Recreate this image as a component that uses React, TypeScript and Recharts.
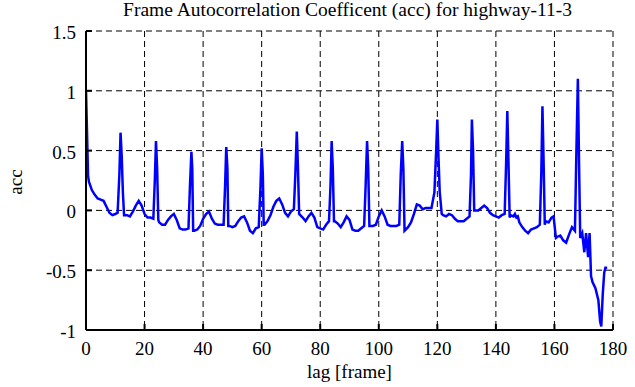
import { LineChart, Line, XAxis, YAxis, CartesianGrid, Label } from "recharts"

// lag [frame] and acc, one row per stretch between spikes
const lags = [
  0, 0.4, 0.7, 1, 2, 3, 4, 5, 6, 7, 8, 9, 10, 10.8, 11.4, 11.8, 12.2, 12.6, 13,
  14, 15, 16, 17, 18, 19, 20, 21, 22, 23, 23.5, 23.9, 24.3, 24.7,
  25, 26, 27, 28, 29, 30, 31, 32, 33, 34, 35, 35.5, 36, 36.3, 36.6,
  37, 38, 39, 40, 41, 42, 43, 44, 45, 46, 47, 47.5, 47.9, 48.3, 48.6,
  49, 50, 51, 52, 53, 54, 55, 56, 57, 58, 59, 59.6, 60, 60.4, 60.7,
  61, 62, 63, 64, 65, 66, 67, 68, 69, 70, 71, 71.5, 72, 72.4, 72.8,
  74, 75, 76, 77, 78, 79, 80, 81, 82, 83, 83.5, 83.9, 84.3, 84.7,
  85, 86, 87, 88, 89, 90, 91, 92, 93, 94, 95, 95.5, 96, 96.4, 96.8,
  98, 99, 100, 101, 102, 103, 104, 105, 106, 107, 107.5, 108, 108.4, 108.8,
  110, 111, 112, 113, 114, 115, 116, 117, 118, 119, 119.6, 120, 120.4, 120.8,
  121.5, 122, 123, 124, 125, 126, 127, 128, 129, 130, 131, 131.5, 131.8, 132.2, 132.6,
  133, 134, 135, 136, 137, 138, 139, 140, 141, 142, 143, 143.5, 143.9, 144.3, 144.7,
  145, 146, 146.5, 147, 147.5, 148, 149, 150, 151, 152, 153, 154, 155, 155.5, 155.9, 156.3, 156.7,
  157, 158, 159, 159.7, 160.5, 161, 162, 163, 164, 165, 166, 167, 167.5, 168, 168.4, 168.8,
  169.5, 170.2, 170.8, 171.5, 172, 172.5, 173, 174, 175, 175.6, 176, 176.5, 177, 177.4, 178,
]

const acc = [
  1.0, 0.6, 0.29, 0.24, 0.17, 0.13, 0.1, 0.09, 0.08, 0.03, -0.02, -0.04, -0.03, -0.02, 0.3, 0.65, 0.45, 0.15, -0.04,
  -0.04, -0.05, -0.01, 0.04, 0.08, 0.04, -0.03, -0.06, -0.06, -0.07, 0.25, 0.58, 0.35, -0.08,
  -0.1, -0.12, -0.12, -0.08, -0.05, -0.03, -0.08, -0.15, -0.16, -0.16, -0.15, 0.2, 0.49, 0.35, -0.17,
  -0.17, -0.16, -0.13, -0.07, -0.03, -0.01, -0.07, -0.11, -0.12, -0.12, -0.12, 0.2, 0.53, 0.35, -0.13,
  -0.13, -0.14, -0.13, -0.09, -0.06, -0.05, -0.1, -0.17, -0.19, -0.15, -0.14, 0.2, 0.52, 0.3, -0.12,
  -0.12, -0.09, -0.04, 0.03, 0.08, 0.1, 0.05, -0.02, -0.05, -0.01, 0.01, 0.3, 0.66, 0.35, -0.03,
  -0.06, -0.09, -0.05, -0.02, -0.06, -0.14, -0.15, -0.16, -0.12, -0.09, 0.2, 0.58, 0.35, -0.09,
  -0.09, -0.11, -0.14, -0.1, -0.05, -0.08, -0.16, -0.17, -0.17, -0.15, -0.13, 0.2, 0.58, 0.35, -0.13,
  -0.13, -0.12, -0.05, 0.0, -0.05, -0.12, -0.13, -0.13, -0.13, -0.12, 0.3, 0.58, 0.35, -0.17,
  -0.14, -0.1, -0.03, 0.05, 0.04, 0.01, 0.02, 0.02, 0.02, 0.15, 0.5, 0.76, 0.44, 0.16,
  -0.03, -0.04, -0.05, -0.03, -0.04, -0.07, -0.09, -0.09, -0.09, -0.07, -0.05, 0.3, 0.76, 0.5, 0.0,
  0.0, 0.0, 0.02, 0.04, 0.02, -0.02, -0.04, -0.05, -0.06, -0.04, -0.03, 0.4, 0.83, 0.4, -0.06,
  -0.04, -0.05, -0.03, -0.06, -0.05, -0.1, -0.14, -0.17, -0.19, -0.16, -0.15, -0.14, -0.12, 0.3, 0.87, 0.4, -0.12,
  -0.09, -0.1, -0.06, -0.05, -0.23, -0.22, -0.21, -0.25, -0.27, -0.2, -0.14, -0.17, 0.5, 1.1, 0.4, -0.23,
  -0.19, -0.35, -0.19, -0.39, -0.19, -0.55, -0.6, -0.65, -0.75, -0.93, -0.97, -0.7, -0.52, -0.48, -0.48,
]

const xTicks = [0, 20, 40, 60, 80, 100, 120, 140, 160, 180]
const yTicks = [-1, -0.5, 0, 0.5, 1, 1.5]

const title = "Frame Autocorrelation Coefficent (acc) for highway-11-3"

const data = lags.map((lag, i) => ({ lag, acc: acc[i] }))

const font = "'Liberation Serif', 'Times New Roman', serif"
const svgFont = "Liberation Serif"
const textSize = 19
const blank = () => ""

// tick text drawn by hand, with the family as a plain attribute like the Label uses
const bottomTick = (props: any) => (
  <text
    key={`b-${props.payload.value}`}
    x={props.x}
    y={props.y + 13}
    textAnchor="middle"
    fill="#000"
    fontFamily={svgFont}
    fontSize={textSize}
  >
    {props.payload.value}
  </text>
)

const leftTick = (props: any) => (
  <text
    key={`l-${props.payload.value}`}
    x={props.x}
    y={props.y + 8}
    textAnchor="end"
    fill="#000"
    fontFamily={svgFont}
    fontSize={textSize}
  >
    {props.payload.value}
  </text>
)

export default function App() {
  return (
    <div style={{ position: "absolute", left: 0, top: 0, width: 635, height: 387, background: "#fff", fontFamily: font }}>
      <div style={{ position: "absolute", left: 0, top: 0, width: 695, textAlign: "center", fontSize: 19.5, lineHeight: 1, color: "#000", whiteSpace: "nowrap" }}>
        {title}
      </div>
      {/* y label sits outside the axis box, rotate a plain div instead of fighting Label anchors */}
      <div style={{ position: "absolute", left: 15, top: 182, transform: "translate(-50%, -50%) rotate(-90deg)", fontSize: textSize, lineHeight: 1, color: "#000" }}>
        acc
      </div>
      <LineChart width={635} height={387} data={data} margin={{ top: 31, right: 22, bottom: 0, left: 0 }} style={{ fontFamily: font }}>
        <CartesianGrid stroke="#000" strokeDasharray="6 4" strokeWidth={1} />
        <XAxis
          dataKey="lag"
          type="number"
          domain={[0, 180]}
          ticks={xTicks}
          height={57}
          stroke="#000"
          strokeWidth={2}
          tickSize={-6}
          tickMargin={18}
          tick={bottomTick}
          fontFamily={svgFont}
          allowDataOverflow
        >
          <Label value="lag [frame]" position="insideBottom" offset={9} fill="#000" fontSize={textSize} fontFamily={svgFont} />
        </XAxis>
        <XAxis
          xAxisId="top"
          orientation="top"
          type="number"
          domain={[0, 180]}
          ticks={xTicks}
          height={0}
          stroke="#000"
          strokeWidth={2}
          tickSize={-6}
          tickFormatter={blank}
          allowDataOverflow
        />
        <YAxis
          type="number"
          domain={[-1, 1.5]}
          ticks={yTicks}
          width={86}
          stroke="#000"
          strokeWidth={2}
          tickSize={-6}
          tickMargin={16}
          tick={leftTick}
          fontFamily={svgFont}
          allowDataOverflow
        />
        <YAxis
          yAxisId="right"
          orientation="right"
          type="number"
          domain={[-1, 1.5]}
          ticks={yTicks}
          width={0}
          stroke="#000"
          strokeWidth={2}
          tickSize={-6}
          tickFormatter={blank}
          allowDataOverflow
        />
        <Line
          type="linear"
          dataKey="acc"
          stroke="#0000ff"
          strokeWidth={2.5}
          dot={false}
          isAnimationActive={false}
        />
      </LineChart>
    </div>
  )
}
